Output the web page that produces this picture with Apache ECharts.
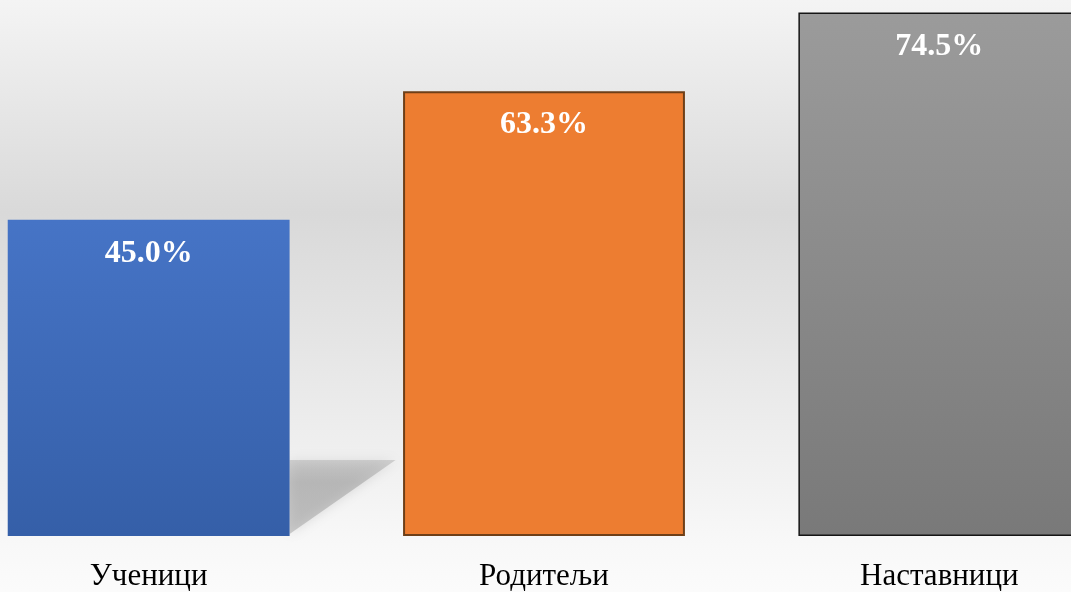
<!DOCTYPE html>
<html><head><meta charset="utf-8">
<script src="https://cdn.jsdelivr.net/npm/echarts@6/dist/echarts.min.js"></script>
<style>
html,body{margin:0;padding:0;width:1071px;height:592px;overflow:hidden;background:#f4f4f4;}
#c{position:absolute;left:-49px;top:0;width:1186px;height:592px;}
</style>
</head><body><div id="c"></div>
<script>
const categories = ['Ученици', 'Родитељи', 'Наставници'];
const values = [45.0, 63.3, 74.5];
const shadowData = [[0, 45.0]];

const chart = echarts.init(document.getElementById('c'), null, {renderer: 'canvas'});

const barStyles = [
  {color: {type: 'linear', x: 0, y: 0, x2: 0, y2: 1, colorStops: [{offset: 0, color: '#4674c6'}, {offset: 1, color: '#355fa8'}]}, borderWidth: 0},
  {color: '#ed7d31', borderColor: '#6e3f18', borderWidth: 2},
  {color: {type: 'linear', x: 0, y: 0, x2: 0, y2: 1, colorStops: [{offset: 0, color: '#9b9b9b'}, {offset: 1, color: '#797979'}]}, borderColor: '#151515', borderWidth: 1.5}
];

chart.setOption({
  backgroundColor: {type: 'linear', x: 0, y: 0, x2: 0, y2: 1, colorStops: [
    {offset: 0, color: '#f4f4f4'}, {offset: 0.36, color: '#d9d9d9'}, {offset: 0.92, color: '#f8f8f8'}, {offset: 1, color: '#fbfbfb'}]},
  animation: false,
  grid: {left: 0, right: 0, top: 2, bottom: 52, containLabel: false},
  xAxis: {
    type: 'category', data: categories,
    axisLine: {show: false}, axisTick: {show: false}, splitLine: {show: false},
    axisLabel: {margin: 25, fontFamily: 'Liberation Serif', fontSize: 31, color: '#000'}
  },
  yAxis: {type: 'value', min: 0, max: 76, show: false, splitLine: {show: false}},
  series: [
    {
      type: 'custom', z: 1, silent: true,
      data: shadowData,
      renderItem: function (params, api) {
        const p = api.coord([api.value(0), api.value(1)]);
        const base = api.coord([api.value(0), 0])[1];
        const half = api.size([1, 0])[0] * 0.713 / 2;
        const x0 = p[0] + half;
        return {
          type: 'polygon',
          shape: {points: [[x0, base - 76], [x0 + 106, base - 76], [x0, base - 2]]},
          style: {
            fill: {type: 'linear', x: 0, y: 0, x2: 0, y2: 1, colorStops: [
              {offset: 0, color: 'rgba(150,150,150,0.35)'}, {offset: 0.3, color: 'rgba(150,150,150,0.5)'}, {offset: 1, color: 'rgba(150,150,150,0.45)'}]},
            shadowBlur: 12, shadowColor: 'rgba(150,150,150,0.6)'
          }
        };
      }
    },
    {
      type: 'bar', z: 2, barWidth: '71.3%',
      data: values.map((v, i) => ({value: v, itemStyle: barStyles[i]})),
      label: {
        show: true, position: 'insideTop', distance: 18,
        formatter: p => p.value.toFixed(1) + '%',
        fontFamily: 'Liberation Serif', fontWeight: 'bold', fontSize: 32, color: '#ffffff'
      }
    }
  ]
});
</script></body></html>
